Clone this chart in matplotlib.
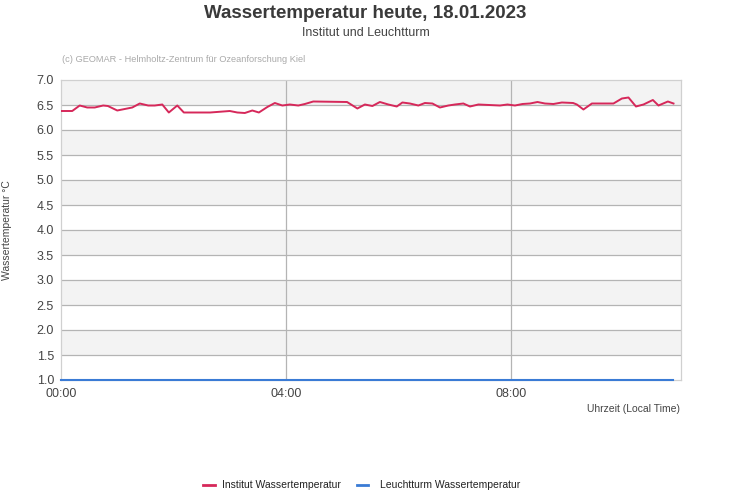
import matplotlib.pyplot as plt
import numpy as np

plt.rcParams['font.family'] = ['Liberation Sans', 'DejaVu Sans']

# Messwerte Institut (Minuten seit 00:00, Temperatur in °C)
inst_min = [0, 12, 20, 28, 36, 45, 50, 60, 68, 76, 84, 93, 100, 108, 115, 124,
            131, 159, 180, 188, 196, 204, 211, 220, 228, 236, 244, 253, 260, 269,
            305, 316, 324, 332, 340, 349, 358, 364, 372, 381, 388, 396, 404, 413,
            420, 429, 436, 445, 468, 476, 484, 492, 500, 508, 516, 525, 534, 546,
            550, 557, 566, 589, 598, 605, 613, 621, 631, 637, 647, 653]
inst_temp = [6.38, 6.38, 6.49, 6.45, 6.45, 6.49, 6.48, 6.39, 6.42, 6.45, 6.53, 6.49,
             6.49, 6.51, 6.35, 6.49, 6.35, 6.35, 6.38, 6.35, 6.34, 6.39, 6.35, 6.46,
             6.54, 6.49, 6.51, 6.49, 6.52, 6.57, 6.56, 6.43, 6.51, 6.48, 6.56, 6.51,
             6.47, 6.55, 6.53, 6.49, 6.54, 6.53, 6.45, 6.49, 6.51, 6.53, 6.47, 6.51,
             6.49, 6.51, 6.49, 6.52, 6.53, 6.56, 6.53, 6.52, 6.55, 6.54, 6.51, 6.41,
             6.53, 6.53, 6.63, 6.65, 6.47, 6.51, 6.60, 6.49, 6.57, 6.53]

# Leuchtturm: keine gültigen Werte, Linie liegt auf dem unteren Rand
leucht_min = [0, 653]
leucht_temp = [1.0, 1.0]

y_ticks = [1.0, 1.5, 2.0, 2.5, 3.0, 3.5, 4.0, 4.5, 5.0, 5.5, 6.0, 6.5, 7.0]
x_ticks = [0, 240, 480]
x_labels = ["00:00", "04:00", "08:00"]

red = '#d6285a'
blue = '#3a7bd5'

fig = plt.figure(figsize=(7.31, 5.0), dpi=100)
ax = fig.add_axes([0.0834, 0.24, 0.8482, 0.60])

# abwechselnde Bänder
for i in range(len(y_ticks) - 1):
    if (len(y_ticks) - 2 - i) % 2 == 0:
        ax.axhspan(y_ticks[i], y_ticks[i + 1], color='#f3f3f3', zorder=0, lw=0)

for y in y_ticks[1:-1]:
    ax.axhline(y, color='#b4b4b4', lw=0.9, zorder=1)
for x in x_ticks[1:]:
    ax.axvline(x, color='#b4b4b4', lw=0.9, zorder=1)

ax.plot(inst_min, inst_temp, color=red, lw=1.4, zorder=3)
ax.plot(leucht_min, leucht_temp, color=blue, lw=1.5, zorder=3, clip_on=False)

ax.set_xlim(0, 661)
ax.set_ylim(1.0, 7.0)
ax.set_yticks(y_ticks)
ax.set_yticklabels([f"{v:.1f}" for v in y_ticks])
ax.set_xticks(x_ticks)
ax.set_xticklabels(x_labels)
ax.tick_params(length=0, labelsize=9, colors='#444444', pad=6)
ax.tick_params(axis='y', pad=5)
for s in ax.spines.values():
    s.set_color('#d0d0d0')
    s.set_linewidth(0.9)

fig.text(0.5, 0.973, "Wassertemperatur heute, 18.01.2023", ha='center', va='center',
         fontsize=13.5, fontweight='bold', color='#3a3a3a')
fig.text(0.5, 0.934, "Institut und Leuchtturm", ha='center', va='center',
         fontsize=9, color='#444444')
fig.text(0.085, 0.880, "(c) GEOMAR - Helmholtz-Zentrum für Ozeanforschung Kiel",
         ha='left', va='center', fontsize=6.7, color='#aaaaaa')
fig.text(0.930, 0.182, "Uhrzeit (Local Time)", ha='right', va='center',
         fontsize=7.5, color='#444444')
fig.text(0.009, 0.54, "Wassertemperatur °C", ha='center', va='center',
         rotation=90, fontsize=7.5, color='#444444')

# Legende unten
fig.lines.append(plt.Line2D([0.278, 0.294], [0.030, 0.030], color=red, lw=2,
                            transform=fig.transFigure))
fig.text(0.304, 0.030, "Institut Wassertemperatur", ha='left', va='center',
         fontsize=7.5, color='#222222')
fig.lines.append(plt.Line2D([0.488, 0.504], [0.030, 0.030], color=blue, lw=2,
                            transform=fig.transFigure))
fig.text(0.520, 0.030, "Leuchtturm Wassertemperatur", ha='left', va='center',
         fontsize=7.5, color='#222222')

fig.savefig("out.png", dpi=100)
